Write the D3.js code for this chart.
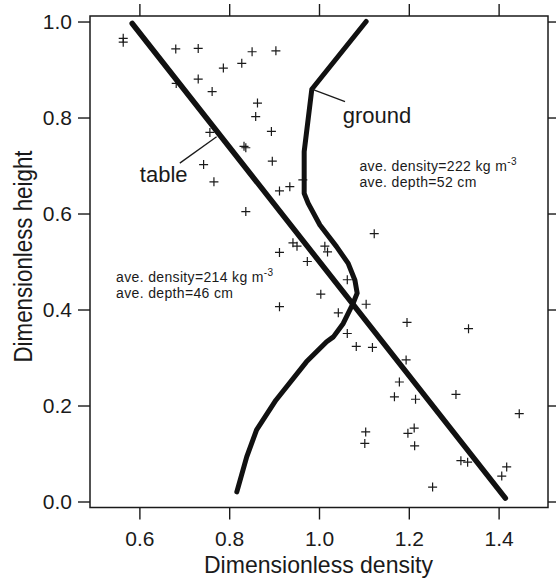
<!DOCTYPE html>
<html>
<head>
<meta charset="utf-8">
<script src="https://cdn.jsdelivr.net/npm/d3@7"></script>
<style>
  html, body { margin: 0; padding: 0; background: #ffffff; }
  svg { display: block; font-family: "Liberation Sans", Arial, Helvetica, sans-serif; }
</style>
</head>
<body>
<svg id="chart" width="556" height="579"></svg>
<script>
// Measured snow density profiles (dimensionless density vs dimensionless height)
const pointDensity = [
  0.564, 0.564, 0.681, 0.731, 0.851, 0.904, 0.787, 0.828, 0.731, 0.682,
  0.762, 0.863, 0.859, 0.894, 0.757, 0.833, 0.837, 0.896, 0.743, 0.766,
  0.912, 0.935, 0.964, 0.837, 1.123, 0.942, 0.951, 0.912, 1.013, 1.019,
  0.974, 1.063, 1.004, 1.105, 0.912, 1.043, 1.196, 1.063, 1.333, 1.083,
  1.119, 1.194, 1.179, 1.168, 1.215, 1.305, 1.446, 1.104, 1.102, 1.212,
  1.198, 1.213, 1.316, 1.331, 1.418, 1.407, 1.253
];
const pointHeight = [
  0.965, 0.957, 0.943, 0.944, 0.937, 0.939, 0.903, 0.913, 0.880, 0.871,
  0.854, 0.830, 0.802, 0.771, 0.769, 0.740, 0.737, 0.709, 0.702, 0.666,
  0.647, 0.656, 0.670, 0.604, 0.558, 0.539, 0.532, 0.519, 0.532, 0.520,
  0.500, 0.462, 0.432, 0.411, 0.406, 0.393, 0.373, 0.350, 0.360, 0.323,
  0.321, 0.295, 0.249, 0.218, 0.213, 0.223, 0.183, 0.145, 0.121, 0.153,
  0.142, 0.116, 0.085, 0.082, 0.072, 0.053, 0.030
];

// Fitted profile for the table site
const tableDensity = [0.584, 1.415];
const tableHeight  = [0.996, 0.007];

// Fitted profile for the ground site
const groundDensity = [1.105, 0.984, 0.967, 0.967, 0.976, 1.002, 1.039, 1.065, 1.080,
                       1.085, 1.076, 1.054, 1.032, 1.017, 0.972, 0.904, 0.861, 0.839, 0.817];
const groundHeight  = [1.000, 0.859, 0.729, 0.642, 0.621, 0.576, 0.531, 0.496, 0.461,
                       0.434, 0.413, 0.371, 0.343, 0.333, 0.291, 0.211, 0.149, 0.093, 0.020];

const xTicks = [0.6, 0.8, 1.0, 1.2, 1.4];
const yTicks = [0.0, 0.2, 0.4, 0.6, 0.8, 1.0];

const svg = d3.select("#chart");
const frameL = 90, frameR = 548, frameT = 16, frameB = 507.5;
const ink = "#1a1a1a";

const x = d3.scaleLinear().domain([0.49, 1.51]).range([frameL, frameR]);
const y = d3.scaleLinear().domain([-0.0125, 1.0115]).range([frameB, frameT]);

// Axes: ticks point outward on all four sides
function styleAxis(g) {
  g.select(".domain").remove();
  g.selectAll(".tick line").attr("stroke", ink).attr("stroke-width", 1.4);
  g.selectAll(".tick text").attr("fill", ink).style("font-size", "21px")
    .style("font-family", "'Liberation Sans', Arial, sans-serif");
}
svg.append("g").attr("transform", `translate(0,${frameB})`)
  .call(d3.axisBottom(x).tickValues(xTicks).tickFormat(d3.format(".1f")).tickSize(12).tickPadding(12))
  .call(styleAxis);
svg.append("g").attr("transform", `translate(${frameL},0)`)
  .call(d3.axisLeft(y).tickValues(yTicks).tickFormat(d3.format(".1f")).tickSize(12).tickPadding(6))
  .call(styleAxis);
svg.append("g").attr("transform", `translate(0,${frameT})`)
  .call(d3.axisTop(x).tickValues(xTicks).tickFormat("").tickSize(12))
  .call(styleAxis);
svg.append("g").attr("transform", `translate(${frameR},0)`)
  .call(d3.axisRight(y).tickValues(yTicks).tickFormat("").tickSize(12))
  .call(styleAxis);

// Plot frame
svg.append("rect")
  .attr("x", frameL).attr("y", frameT)
  .attr("width", frameR - frameL).attr("height", frameB - frameT)
  .attr("fill", "none").attr("stroke", ink).attr("stroke-width", 1.5);

// Measured points as plus markers
svg.append("g").selectAll("path.pt")
  .data(pointDensity.map((d, i) => [d, pointHeight[i]]))
  .join("path")
  .attr("class", "pt")
  .attr("transform", d => `translate(${x(d[0])},${y(d[1])})`)
  .attr("d", "M-4.5,0H4.5M0,-4.5V4.5")
  .attr("stroke", ink).attr("stroke-width", 1.2).attr("fill", "none");

// Profile lines
const line = d3.line().x(d => x(d[0])).y(d => y(d[1]));
svg.append("path")
  .datum(tableDensity.map((d, i) => [d, tableHeight[i]]))
  .attr("d", line)
  .attr("fill", "none").attr("stroke", "#111").attr("stroke-width", 5.5)
  .attr("stroke-linecap", "round");
svg.append("path")
  .datum(groundDensity.map((d, i) => [d, groundHeight[i]]))
  .attr("d", line)
  .attr("fill", "none").attr("stroke", "#111").attr("stroke-width", 5)
  .attr("stroke-linejoin", "round").attr("stroke-linecap", "round");

// Line labels with leaders
function leader(x1, y1, x2, y2) {
  svg.append("line")
    .attr("x1", x(x1)).attr("y1", y(y1)).attr("x2", x(x2)).attr("y2", y(y2))
    .attr("stroke", ink).attr("stroke-width", 1.3);
}
leader(0.690, 0.705, 0.772, 0.760);
leader(0.984, 0.859, 1.058, 0.833);
svg.append("text").attr("x", x(0.601)).attr("y", y(0.666))
  .attr("fill", ink).style("font-size", "22px").text("table");
svg.append("text").attr("x", x(1.053)).attr("y", y(0.789))
  .attr("fill", ink).style("font-size", "22px").text("ground");

// Site statistics, two lines in one text block
function stats(x0, y0, dens, depth) {
  const px = x(x0);
  const t = svg.append("text").attr("x", px).attr("y", y(y0) - 1)
    .attr("fill", ink).style("font-size", "14px").style("letter-spacing", "0.35px");
  t.append("tspan").text(`ave. density=${dens} kg m`);
  t.append("tspan").attr("dy", -6).style("font-size", "10px").text("-3");
  t.append("tspan").attr("x", px).attr("dy", 22).text(`ave. depth=${depth} cm`);
}
stats(1.090, 0.687, 222, 52);
stats(0.548, 0.4545, 214, 46);

// Axis titles (tall, narrow lettering)
svg.append("text")
  .attr("x", 318.5).attr("y", 573)
  .attr("text-anchor", "middle").attr("fill", ink).style("font-size", "24px")
  .attr("textLength", 229).attr("lengthAdjust", "spacingAndGlyphs")
  .text("Dimensionless density");
svg.append("text")
  .attr("transform", `translate(31.5,256.5) rotate(-90)`)
  .attr("text-anchor", "middle").attr("fill", ink).style("font-size", "26px")
  .attr("textLength", 212).attr("lengthAdjust", "spacingAndGlyphs")
  .text("Dimensionless height");
</script>
</body>
</html>
